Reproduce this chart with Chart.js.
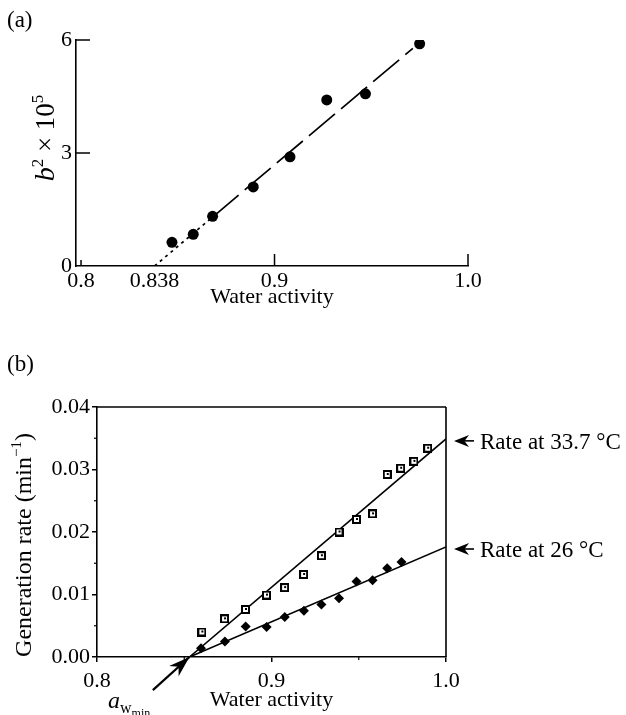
<!DOCTYPE html>
<html>
<head>
<meta charset="utf-8">
<script src="https://cdn.jsdelivr.net/npm/chart.js@4.4.1/dist/chart.umd.min.js"></script>
<style>
  html, body { margin: 0; padding: 0; background: #fff; }
  #wrap { position: relative; width: 626px; height: 715px; overflow: hidden; }
  canvas { position: absolute; left: 0; }
  #chartA { top: 0; }
  #chartB { top: 320px; }
</style>
</head>
<body>
<div id="wrap">
  <canvas id="chartA" width="626" height="320"></canvas>
  <canvas id="chartB" width="626" height="395"></canvas>
</div>
<script>
// ---- panel (a): b^2 x 10^5 against water activity ----
const aWater = [0.847, 0.858, 0.868, 0.889, 0.908, 0.927, 0.947, 0.975];
const aB2 = [0.63, 0.84, 1.32, 2.10, 2.90, 4.41, 4.57, 5.90];
const aFitX = [0.838, 0.868, 0.9715];
const aFitY = [0, 1.30, 5.78];
const aXTicks = [0.8, 0.838, 0.9, 1.0];
const aXTickLabels = ['0.8', '0.838', '0.9', '1.0'];
const aYTicks = [0, 3, 6];
const aYTickLabels = ['0', '3', '6'];

// ---- panel (b): generation rate against water activity ----
const bWater337 = [0.8601, 0.8731, 0.8851, 0.8971, 0.9075, 0.9184, 0.9286, 0.9387, 0.9487, 0.9579, 0.9663, 0.9740, 0.9816, 0.9895];
const bRate337 = [0.0040, 0.0061, 0.0076, 0.0099, 0.0111, 0.0132, 0.0162, 0.0200, 0.0220, 0.0229, 0.0292, 0.0302, 0.0313, 0.0334];
const bWater26 = [0.8596, 0.8733, 0.8852, 0.8972, 0.9076, 0.9186, 0.9286, 0.9387, 0.9487, 0.9579, 0.9663, 0.9745];
const bRate26 = [0.0014, 0.0025, 0.0049, 0.0048, 0.0064, 0.0074, 0.0084, 0.0094, 0.0121, 0.0123, 0.0142, 0.0152];
const bFit337X = [0.853, 1.0];
const bFit337Y = [0, 0.0349];
const bFit26X = [0.853, 1.0];
const bFit26Y = [0, 0.0176];
const bArrowX = [0.832, 0.853];
const bArrowY = [-0.0053, 0];
const bXTicks = [0.8, 0.9, 1.0];
const bXTickLabels = ['0.8', '0.9', '1.0'];
const bYTicks = [0, 0.01, 0.02, 0.03, 0.04];
const bYTickLabels = ['0.00', '0.01', '0.02', '0.03', '0.04'];
const bXMinor = [0.85, 0.95];
const bYMinor = [0.005, 0.015, 0.025, 0.035];

const SERIF = '"Liberation Serif", "Times New Roman", serif';
Chart.defaults.font.family = SERIF;
Chart.defaults.font.size = 22;
Chart.defaults.color = '#000';

function toPoints(xs, ys) {
    return xs.map((x, i) => ({ x: x, y: ys[i] }));
}

// text made of runs with their own style and baseline shift
function richText(ctx, runs, x, y, align, angle) {
    const fontOf = r => (r.italic ? 'italic ' : '') + r.size + 'px ' + SERIF;
    ctx.save();
    ctx.translate(x, y);
    if (angle) ctx.rotate(angle);
    let total = 0;
    runs.forEach(r => {
        ctx.font = fontOf(r);
        r.w = ctx.measureText(r.t).width;
        total += r.w;
    });
    let cx = align === 'center' ? -total / 2 : (align === 'right' ? -total : 0);
    ctx.fillStyle = '#000';
    ctx.textAlign = 'left';
    ctx.textBaseline = 'alphabetic';
    runs.forEach(r => {
        ctx.font = fontOf(r);
        ctx.fillText(r.t, cx, r.dy || 0);
        cx += r.w;
    });
    ctx.restore();
}

function arrowHead(ctx, tipX, tipY, fromX, fromY, len, half) {
    const a = Math.atan2(tipY - fromY, tipX - fromX);
    ctx.save();
    ctx.translate(tipX, tipY);
    ctx.rotate(a);
    ctx.beginPath();
    ctx.moveTo(0, 0);
    ctx.lineTo(-len, -half);
    ctx.lineTo(-len * 0.7, 0);
    ctx.lineTo(-len, half);
    ctx.closePath();
    ctx.fillStyle = '#000';
    ctx.fill();
    ctx.restore();
}

function line(ctx, x1, y1, x2, y2, w) {
    ctx.beginPath();
    ctx.moveTo(x1, y1);
    ctx.lineTo(x2, y2);
    ctx.lineWidth = w || 1.5;
    ctx.strokeStyle = '#000';
    ctx.stroke();
}

// open square marker with a dot inside
const squareMarker = document.createElement('canvas');
squareMarker.width = 9;
squareMarker.height = 9;
(function () {
    const c = squareMarker.getContext('2d');
    c.fillStyle = '#000';
    c.fillRect(0, 0, 9, 9);
    c.fillStyle = '#fff';
    c.fillRect(2, 2, 5, 5);
    c.fillStyle = '#000';
    c.fillRect(4, 3, 2, 2);
})();

const decorA = {
    id: 'decorA',
    afterDraw(chart) {
        const ctx = chart.ctx;
        const xs = chart.scales.x, ys = chart.scales.y;
        // inward ticks
        [3, 6].forEach(v => {
            const py = ys.getPixelForValue(v);
            line(ctx, xs.left, py, xs.left + 14, py, 1.5);
        });
        [[0.8, 6], [0.9, 12], [1.0, 12]].forEach(t => {
            const px = xs.getPixelForValue(t[0]);
            line(ctx, px, ys.bottom, px, ys.bottom - t[1], 1.5);
        });
        richText(ctx, [
            { t: 'b', italic: true, size: 28 },
            { t: '2', size: 17, dy: -11 },
            { t: ' \u00d7 10', size: 27 },
            { t: '5', size: 17, dy: -11 }
        ], 54, 138, 'center', -Math.PI / 2);
        richText(ctx, [{ t: '(a)', size: 23 }], 7, 27, 'left');
    }
};

const decorB = {
    id: 'decorB',
    afterDraw(chart) {
        const ctx = chart.ctx;
        const area = chart.chartArea;
        const xs = chart.scales.x, ys = chart.scales.y;
        // top and right of the frame
        line(ctx, area.left, area.top, area.right, area.top, 1.6);
        line(ctx, area.right, area.top, area.right, area.bottom, 1.6);
        // minor ticks
        bYMinor.forEach(v => {
            const py = ys.getPixelForValue(v);
            line(ctx, area.left - 3, py, area.left, py, 1.2);
        });
        bXMinor.forEach(v => {
            const px = xs.getPixelForValue(v);
            line(ctx, px, area.bottom, px, area.bottom + 3, 1.2);
        });
        // arrowhead pointing at a_w,min
        const arrow = chart.getDatasetMeta(4).data;
        arrowHead(ctx, arrow[1].x, arrow[1].y, arrow[0].x, arrow[0].y, 21, 7);
        // labels at the right ends of the fitted lines
        [[bFit337Y[1], 'Rate at 33.7 \u00b0C'], [bFit26Y[1], 'Rate at 26 \u00b0C']].forEach(l => {
            const py = ys.getPixelForValue(l[0]) + 2;
            line(ctx, area.right + 28, py, area.right + 14, py, 1.6);
            arrowHead(ctx, area.right + 8, py, area.right + 28, py, 15, 6);
            richText(ctx, [{ t: l[1], size: 23 }], area.right + 34, py + 8, 'left');
        });
        richText(ctx, [
            { t: 'Generation rate (min', size: 24 },
            { t: '\u22121', size: 15, dy: -10 },
            { t: ')', size: 24 }
        ], 31, 225, 'center', -Math.PI / 2);
        richText(ctx, [{ t: '(b)', size: 23 }], 7, 51, 'left');
        richText(ctx, [
            { t: 'a', italic: true, size: 24 },
            { t: 'w', size: 16, dy: 5 },
            { t: 'min', size: 12, dy: 9 }
        ], 108, 388, 'left');
    }
};

new Chart(document.getElementById('chartA'), {
    type: 'scatter',
    data: {
        datasets: [
            {
                label: 'b2',
                data: toPoints(aWater, aB2),
                pointRadius: 5.5,
                pointBackgroundColor: '#000',
                pointBorderWidth: 0
            },
            {
                label: 'fit',
                data: toPoints(aFitX, aFitY),
                showLine: true,
                borderColor: '#000',
                borderWidth: 1.7,
                pointRadius: 0,
                segment: {
                    borderDash: c => c.p0DataIndex === 0 ? [3, 4] : [34, 8]
                }
            }
        ]
    },
    options: {
        responsive: false,
        animation: false,
        devicePixelRatio: 1,
        layout: { padding: { top: 40, right: 158, left: 0, bottom: 0 } },
        plugins: { legend: { display: false }, tooltip: { enabled: false } },
        scales: {
            x: {
                type: 'linear',
                min: 0.7974,
                max: 1.0,
                afterBuildTicks: s => { s.ticks = aXTicks.map(v => ({ value: v })); },
                afterFit: s => { s.height = 54; },
                ticks: { autoSkip: false, maxRotation: 0, padding: 2, callback: (v, i) => aXTickLabels[i] },
                grid: { display: false, drawTicks: false },
                border: { color: '#000', width: 1.6 },
                title: { display: true, text: 'Water activity', font: { size: 22 }, padding: { top: 0, bottom: 10 } }
            },
            y: {
                min: 0,
                max: 6,
                afterBuildTicks: s => { s.ticks = aYTicks.map(v => ({ value: v })); },
                afterFit: s => { s.width = 76; },
                ticks: { padding: 4, callback: (v, i) => aYTickLabels[i] },
                grid: { display: false, drawTicks: false },
                border: { color: '#000', width: 1.6 }
            }
        }
    },
    plugins: [decorA]
});

const tickGrid = { display: true, drawOnChartArea: false, drawTicks: true, tickLength: 5, color: '#000', lineWidth: 1.5 };

new Chart(document.getElementById('chartB'), {
    type: 'scatter',
    data: {
        datasets: [
            {
                label: 'Rate at 33.7 \u00b0C',
                data: toPoints(bWater337, bRate337),
                pointStyle: squareMarker
            },
            {
                label: 'Rate at 26 \u00b0C',
                data: toPoints(bWater26, bRate26),
                pointStyle: 'rectRot',
                pointRadius: 5,
                pointBackgroundColor: '#000',
                pointBorderWidth: 0
            },
            {
                label: 'fit 33.7',
                data: toPoints(bFit337X, bFit337Y),
                showLine: true,
                borderColor: '#000',
                borderWidth: 1.6,
                pointRadius: 0
            },
            {
                label: 'fit 26',
                data: toPoints(bFit26X, bFit26Y),
                showLine: true,
                borderColor: '#000',
                borderWidth: 1.6,
                pointRadius: 0
            },
            {
                label: 'aw min',
                data: toPoints(bArrowX, bArrowY),
                showLine: true,
                borderColor: '#000',
                borderWidth: 2.2,
                pointRadius: 0,
                clip: false
            }
        ]
    },
    options: {
        responsive: false,
        animation: false,
        devicePixelRatio: 1,
        layout: { padding: { top: 87, right: 180, left: 0, bottom: 0 } },
        plugins: { legend: { display: false }, tooltip: { enabled: false } },
        scales: {
            x: {
                type: 'linear',
                min: 0.8,
                max: 1.0,
                afterBuildTicks: s => { s.ticks = bXTicks.map(v => ({ value: v })); },
                afterFit: s => { s.height = 58; },
                ticks: { autoSkip: false, maxRotation: 0, padding: 6, callback: (v, i) => bXTickLabels[i] },
                grid: tickGrid,
                border: { color: '#000', width: 1.6 },
                title: { display: true, text: 'Water activity', font: { size: 22 }, padding: { top: 0, bottom: 2 } }
            },
            y: {
                min: 0,
                max: 0.04,
                afterBuildTicks: s => { s.ticks = bYTicks.map(v => ({ value: v })); },
                afterFit: s => { s.width = 97; },
                ticks: { padding: 2, callback: (v, i) => bYTickLabels[i] },
                grid: tickGrid,
                border: { color: '#000', width: 1.6 }
            }
        }
    },
    plugins: [decorB]
});
</script>
</body>
</html>
